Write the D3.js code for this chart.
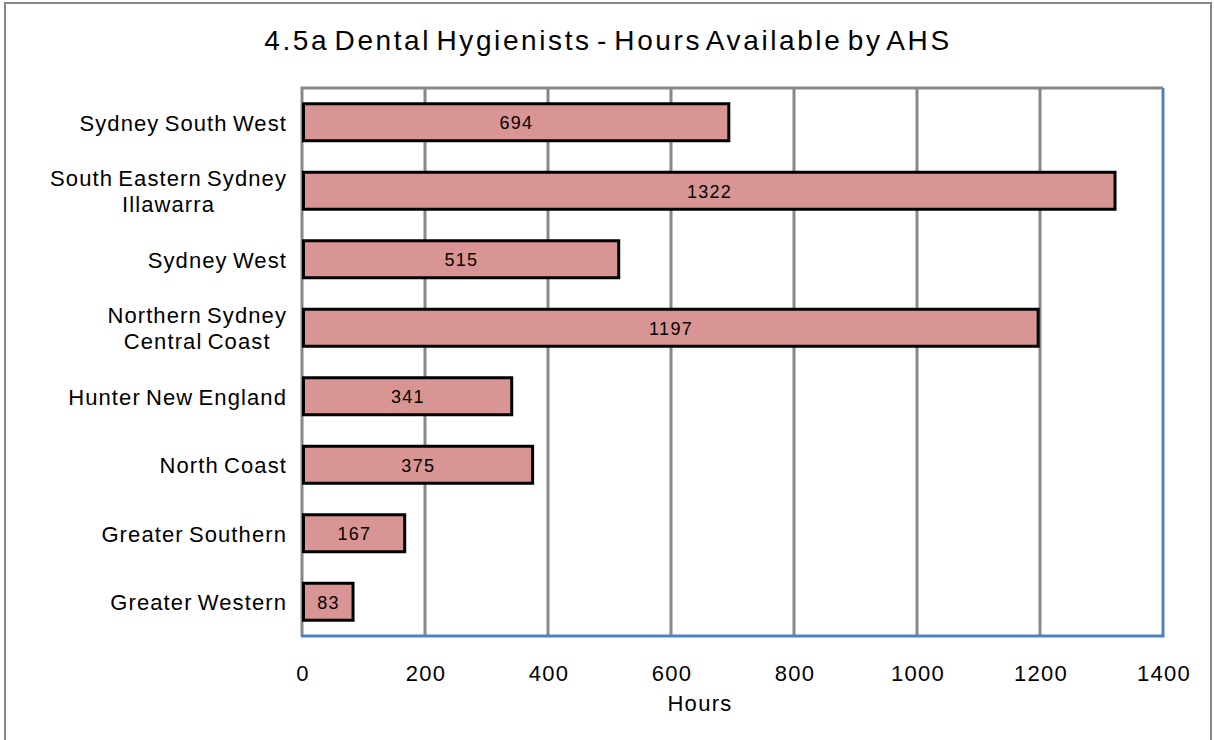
<!DOCTYPE html>
<html>
<head>
<meta charset="utf-8">
<script src="https://cdn.jsdelivr.net/npm/d3@7"></script>
<style>
  body { margin: 0; background: #fff; }
  text { font-family: "Liberation Sans", Arial, sans-serif; fill: #000; }
</style>
</head>
<body>
<svg id="chart" width="1214" height="740"></svg>
<script>
const regions = [
    ['Sydney South West'],
    ['South Eastern Sydney', 'Illawarra'],
    ['Sydney West'],
    ['Northern Sydney', 'Central Coast'],
    ['Hunter New England'],
    ['North Coast'],
    ['Greater Southern'],
    ['Greater Western']
];
const hours = [694, 1322, 515, 1197, 341, 375, 167, 83];
const ticks = [0, 200, 400, 600, 800, 1000, 1200, 1400];

const svg = d3.select('#chart');
const plotLeft = 302, plotRight = 1163, plotTop = 88, plotBottom = 636;

// outer frame
svg.append('rect')
    .attr('x', 5).attr('y', 3).attr('width', 1206).attr('height', 760)
    .attr('fill', 'none').attr('stroke', '#888').attr('stroke-width', 2);

svg.append('text')
    .attr('x', 608).attr('y', 50)
    .attr('text-anchor', 'middle')
    .style('font-size', '28px').style('letter-spacing', '2.6px').style('word-spacing', '-5px')
    .text('4.5a Dental Hygienists - Hours Available by AHS');

const x = d3.scaleLinear().domain([0, 1400]).range([plotLeft, plotRight]);
const y = d3.scaleBand().domain(d3.range(hours.length)).range([plotTop, plotBottom]).paddingInner(0.46).paddingOuter(0.23);

// grid
svg.append('g').selectAll('line').data(ticks.slice(1, -1)).join('line')
    .attr('x1', d => x(d)).attr('x2', d => x(d))
    .attr('y1', plotTop).attr('y2', plotBottom)
    .attr('stroke', '#888').attr('stroke-width', 3);

// plot frame: gray top/left, blue right/bottom
svg.append('path')
    .attr('d', `M${plotLeft},${plotBottom}V${plotTop}H${plotRight}`)
    .attr('fill', 'none').attr('stroke', '#888').attr('stroke-width', 3);
svg.append('path')
    .attr('d', `M${plotLeft - 1},${plotBottom}H${plotRight}V${plotTop}`)
    .attr('fill', 'none').attr('stroke', '#4f81bd').attr('stroke-width', 3);

// bars
const bars = svg.append('g').selectAll('g').data(hours).join('g');
bars.append('rect')
    .attr('x', x(0) + 1.5)
    .attr('y', (d, i) => y(i))
    .attr('width', d => x(d) - x(0) - 1.5)
    .attr('height', y.bandwidth())
    .attr('fill', '#d99594')
    .attr('stroke', '#000').attr('stroke-width', 3);
bars.append('text')
    .attr('x', d => (x(0) + x(d)) / 2 + 1)
    .attr('y', (d, i) => y(i) + y.bandwidth() / 2 + 7)
    .attr('text-anchor', 'middle')
    .style('font-size', '18px').style('letter-spacing', '1.3px')
    .text(d => d);

// category labels
const cat = svg.append('g').selectAll('text').data(regions).join('text')
    .style('font-size', '22px').style('letter-spacing', '1.1px').style('word-spacing', '-2px')
    .attr('transform', (d, i) => {
        const cy = y(i) + y.bandwidth() / 2;
        return `translate(0,${cy - (d.length - 1) * 13 + 8.5})`;
    });
cat.each(function(d) {
    const t = d3.select(this);
    d.forEach((line, k) => {
        t.append('tspan')
            .attr('x', 287).attr('text-anchor', 'end')
            .attr('dy', k ? 25.5 : 0)
            .text(line);
    });
});
// second lines of two-line labels are centred under the first line
cat.filter(d => d.length > 1).each(function() {
    const spans = d3.select(this).selectAll('tspan').nodes();
    const w0 = spans[0].getComputedTextLength();
    const cx = 287 - w0 / 2;
    spans.forEach(s => d3.select(s).attr('x', cx).attr('text-anchor', 'middle'));
});

// x tick labels
svg.append('g').selectAll('text').data(ticks).join('text')
    .attr('x', d => x(d) + 1).attr('y', 681)
    .attr('text-anchor', 'middle')
    .style('font-size', '22px').style('letter-spacing', '1.3px')
    .text(d => d);

svg.append('text')
    .attr('x', 700).attr('y', 711)
    .attr('text-anchor', 'middle')
    .style('font-size', '22px').style('letter-spacing', '1.3px')
    .text('Hours');
</script>
</body>
</html>
